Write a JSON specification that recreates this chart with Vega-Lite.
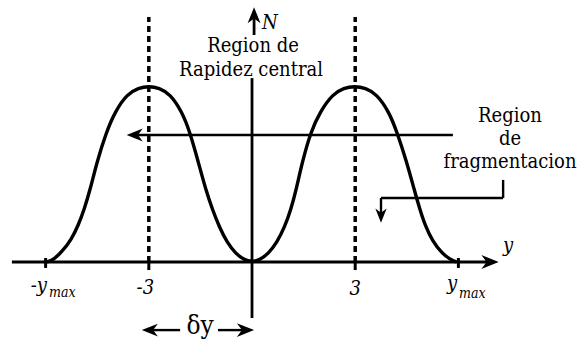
{
  "$schema": "https://vega.github.io/schema/vega-lite/v6.json",
  "width": 581,
  "height": 341,
  "padding": 0,
  "autosize": {"type": "fit", "contains": "padding"},
  "config": {"view": {"stroke": null}},
  "datasets": {
    "curve": [
      {"x": -5.97, "N": 0}, {"x": -5.75, "N": 0.015}, {"x": -5.49, "N": 0.067}, {"x": -5.25, "N": 0.13},
      {"x": -5.05, "N": 0.21}, {"x": -4.88, "N": 0.3}, {"x": -4.71, "N": 0.41}, {"x": -4.51, "N": 0.57},
      {"x": -4.24, "N": 0.74}, {"x": -3.98, "N": 0.86}, {"x": -3.63, "N": 0.96}, {"x": -3.3, "N": 0.995}, {"x": -3.0, "N": 1.005},
      {"x": -2.7, "N": 0.995}, {"x": -2.38, "N": 0.96}, {"x": -2.04, "N": 0.86}, {"x": -1.8, "N": 0.74}, {"x": -1.56, "N": 0.57},
      {"x": -1.34, "N": 0.41}, {"x": -1.15, "N": 0.3}, {"x": -0.95, "N": 0.2}, {"x": -0.72, "N": 0.11}, {"x": -0.48, "N": 0.05},
      {"x": -0.24, "N": 0.013}, {"x": 0, "N": 0}, {"x": 0.24, "N": 0.013}, {"x": 0.48, "N": 0.05}, {"x": 0.72, "N": 0.11},
      {"x": 0.95, "N": 0.2}, {"x": 1.13, "N": 0.3}, {"x": 1.28, "N": 0.41}, {"x": 1.46, "N": 0.57},
      {"x": 1.7, "N": 0.74}, {"x": 1.98, "N": 0.86}, {"x": 2.35, "N": 0.96}, {"x": 2.67, "N": 0.995}, {"x": 2.98, "N": 1.005},
      {"x": 3.3, "N": 0.995}, {"x": 3.62, "N": 0.96}, {"x": 3.98, "N": 0.86}, {"x": 4.22, "N": 0.74}, {"x": 4.5, "N": 0.57},
      {"x": 4.72, "N": 0.41}, {"x": 4.88, "N": 0.3}, {"x": 5.05, "N": 0.2}, {"x": 5.25, "N": 0.12},
      {"x": 5.5, "N": 0.055}, {"x": 5.75, "N": 0.015}, {"x": 5.95, "N": 0}
    ],
    "axes": [
      {"x": -6.98, "x2": 6.9, "N": 0, "N2": 0},
      {"x": 0, "x2": 0, "N": -0.32, "N2": 1.051},
      {"x": 0.06, "x2": 0.06, "N": 1.297, "N2": 1.4}
    ],
    "ticks": [
      {"x": -6, "N": -0.034, "N2": 0.023},
      {"x": 6, "N": -0.034, "N2": 0.023},
      {"x": -3, "N": -0.046, "N2": 0},
      {"x": 3, "N": -0.046, "N2": 0}
    ],
    "dashed": [
      {"x": -3, "N": 0, "N2": 1.4},
      {"x": 3, "N": 0, "N2": 1.4}
    ],
    "pointers": [
      {"x": 5.84, "x2": -3.4, "N": 0.726, "N2": 0.726},
      {"x": 7.3, "x2": 7.3, "N": 0.469, "N2": 0.366},
      {"x": 7.3, "x2": 3.75, "N": 0.366, "N2": 0.366},
      {"x": 3.75, "x2": 3.75, "N": 0.366, "N2": 0.28},
      {"x": -2.09, "x2": -2.9, "N": -0.389, "N2": -0.389},
      {"x": -0.99, "x2": -0.25, "N": -0.389, "N2": -0.389}
    ],
    "headsRight": [{"x": 6.92, "N": 0}, {"x": -0.19, "N": -0.389}],
    "headsLeft": [{"x": -3.41, "N": 0.726}, {"x": -2.97, "N": -0.389}],
    "headsUp": [{"x": 0.06, "N": 1.41}],
    "headsDown": [{"x": 3.75, "N": 0.265}],
    "serifText": [
      {"x": 0.03, "N": 1.2, "t": "Region de"},
      {"x": -0.03, "N": 1.063, "t": "Rapidez central"},
      {"x": 7.5, "N": 0.8, "t": "Region"},
      {"x": 7.5, "N": 0.669, "t": "de"},
      {"x": 7.5, "N": 0.537, "t": "fragmentacion"}
    ],
    "italicRight": [
      {"x": -5.96, "N": -0.171, "t": "-y"}
    ],
    "italicCenter": [
      {"x": -3.1, "N": -0.183, "t": "-3"},
      {"x": 3.0, "N": -0.189, "t": "3"}
    ],
    "italicLeft": [
      {"x": 5.67, "N": -0.16, "t": "y"},
      {"x": 7.3, "N": 0.06, "t": "y"},
      {"x": 0.29, "N": 1.33, "t": "N"}
    ],
    "subs": [
      {"x": -5.9, "N": -0.2, "t": "max"},
      {"x": 6.02, "N": -0.206, "t": "max"}
    ],
    "delta": [{"x": -1.51, "N": -0.411, "t": "δy"}]
  },
  "encoding": {
    "x": {"field": "x", "type": "quantitative", "scale": {"domain": [-7.326, 9.564], "nice": false, "zero": false}, "axis": null},
    "y": {"field": "N", "type": "quantitative", "scale": {"domain": [-0.4514, 1.4971], "nice": false, "zero": false}, "axis": null}
  },
  "layer": [
    {
      "data": {"name": "dashed"},
      "mark": {"type": "rule", "color": "black", "strokeWidth": 3.5, "strokeDash": [6, 4]},
      "encoding": {"y2": {"field": "N2"}}
    },
    {
      "data": {"name": "axes"},
      "mark": {"type": "rule", "color": "black", "strokeWidth": 2.8},
      "encoding": {"x2": {"field": "x2"}, "y2": {"field": "N2"}}
    },
    {
      "data": {"name": "ticks"},
      "mark": {"type": "rule", "color": "black", "strokeWidth": 3},
      "encoding": {"y2": {"field": "N2"}}
    },
    {
      "data": {"name": "pointers"},
      "mark": {"type": "rule", "color": "black", "strokeWidth": 2.4},
      "encoding": {"x2": {"field": "x2"}, "y2": {"field": "N2"}}
    },
    {
      "data": {"name": "curve"},
      "mark": {"type": "line", "color": "black", "strokeWidth": 3.4, "interpolate": "basis"}
    },
    {
      "data": {"name": "headsRight"},
      "mark": {"type": "point", "filled": true, "color": "black", "opacity": 1, "size": 300, "shape": "M1,0L-1,-0.8L-0.4,0L-1,0.8Z", "angle": 0}
    },
    {
      "data": {"name": "headsLeft"},
      "mark": {"type": "point", "filled": true, "color": "black", "opacity": 1, "size": 260, "shape": "M1,0L-1,-0.8L-0.4,0L-1,0.8Z", "angle": 180}
    },
    {
      "data": {"name": "headsUp"},
      "mark": {"type": "point", "filled": true, "color": "black", "opacity": 1, "size": 260, "shape": "M1,0L-1,-0.8L-0.4,0L-1,0.8Z", "angle": 270}
    },
    {
      "data": {"name": "headsDown"},
      "mark": {"type": "point", "filled": true, "color": "black", "opacity": 1, "size": 200, "shape": "M1,0L-1,-0.8L-0.4,0L-1,0.8Z", "angle": 90}
    },
    {
      "data": {"name": "serifText"},
      "mark": {"type": "text", "font": "DejaVu Serif Condensed, DejaVu Serif", "fontSize": 20, "align": "center", "baseline": "alphabetic", "color": "black"},
      "encoding": {"text": {"field": "t"}}
    },
    {
      "data": {"name": "italicRight"},
      "mark": {"type": "text", "font": "DejaVu Serif Condensed, DejaVu Serif", "fontStyle": "italic", "fontSize": 20, "align": "right", "baseline": "alphabetic", "color": "black"},
      "encoding": {"text": {"field": "t"}}
    },
    {
      "data": {"name": "italicCenter"},
      "mark": {"type": "text", "font": "DejaVu Serif Condensed, DejaVu Serif", "fontStyle": "italic", "fontSize": 20, "align": "center", "baseline": "alphabetic", "color": "black"},
      "encoding": {"text": {"field": "t"}}
    },
    {
      "data": {"name": "italicLeft"},
      "mark": {"type": "text", "font": "DejaVu Serif Condensed, DejaVu Serif", "fontStyle": "italic", "fontSize": 20, "align": "left", "baseline": "alphabetic", "color": "black"},
      "encoding": {"text": {"field": "t"}}
    },
    {
      "data": {"name": "subs"},
      "mark": {"type": "text", "font": "DejaVu Serif Condensed, DejaVu Serif", "fontStyle": "italic", "fontSize": 14, "align": "left", "baseline": "alphabetic", "color": "black"},
      "encoding": {"text": {"field": "t"}}
    },
    {
      "data": {"name": "delta"},
      "mark": {"type": "text", "font": "DejaVu Serif Condensed, DejaVu Serif", "fontSize": 26, "align": "center", "baseline": "alphabetic", "color": "black"},
      "encoding": {"text": {"field": "t"}}
    }
  ]
}
